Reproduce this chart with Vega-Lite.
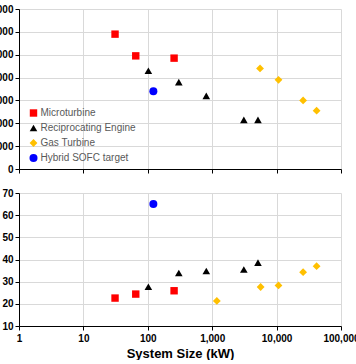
{
  "$schema": "https://vega.github.io/schema/vega-lite/v6.json",
  "padding": {"left": -13, "top": 4, "right": 0, "bottom": 0},
  "background": "white",
  "config": {
    "font": "Liberation Sans",
    "view": {"stroke": null},
    "axis": {
      "domainColor": "#000000",
      "tickColor": "#000000",
      "tickSize": 4,
      "labelFlush": false,
      "labelFont": "Liberation Sans",
      "labelFontWeight": "bold",
      "labelFontSize": 10,
      "labelColor": "#000000",
      "gridColor": "#d9d9d9",
      "titleFont": "Liberation Sans",
      "titleFontWeight": "bold",
      "titleFontSize": 13,
      "titleColor": "#000000"
    }
  },
  "datasets": {
    "top": [
      {"series": "Microturbine", "size_kw": 31, "value": 5900},
      {"series": "Microturbine", "size_kw": 65, "value": 4950},
      {"series": "Microturbine", "size_kw": 256, "value": 4850},
      {"series": "Reciprocating Engine", "size_kw": 102, "value": 4300},
      {"series": "Reciprocating Engine", "size_kw": 303, "value": 3800},
      {"series": "Reciprocating Engine", "size_kw": 810, "value": 3200},
      {"series": "Reciprocating Engine", "size_kw": 3100, "value": 2150},
      {"series": "Reciprocating Engine", "size_kw": 5140, "value": 2150},
      {"series": "Gas Turbine", "size_kw": 5530, "value": 4400},
      {"series": "Gas Turbine", "size_kw": 10700, "value": 3900},
      {"series": "Gas Turbine", "size_kw": 25800, "value": 3000},
      {"series": "Gas Turbine", "size_kw": 41800, "value": 2550},
      {"series": "Hybrid SOFC target", "size_kw": 122, "value": 3400}
    ],
    "bottom": [
      {"series": "Microturbine", "size_kw": 31, "value": 22.6},
      {"series": "Microturbine", "size_kw": 65, "value": 24.4},
      {"series": "Microturbine", "size_kw": 256, "value": 25.9},
      {"series": "Reciprocating Engine", "size_kw": 102, "value": 27.7},
      {"series": "Reciprocating Engine", "size_kw": 303, "value": 33.9},
      {"series": "Reciprocating Engine", "size_kw": 810, "value": 34.8},
      {"series": "Reciprocating Engine", "size_kw": 3100, "value": 35.5},
      {"series": "Reciprocating Engine", "size_kw": 5140, "value": 38.6},
      {"series": "Gas Turbine", "size_kw": 1180, "value": 21.3},
      {"series": "Gas Turbine", "size_kw": 5650, "value": 27.6},
      {"series": "Gas Turbine", "size_kw": 10700, "value": 28.3},
      {"series": "Gas Turbine", "size_kw": 25800, "value": 34.3},
      {"series": "Gas Turbine", "size_kw": 41800, "value": 37.0},
      {"series": "Hybrid SOFC target", "size_kw": 122, "value": 65}
    ]
  },
  "spacing": 14,
  "vconcat": [
    {
      "width": 322,
      "height": 160,
      "data": {"name": "top"},
      "mark": {"type": "point", "filled": true, "opacity": 1},
      "encoding": {
        "x": {
          "field": "size_kw", "type": "quantitative",
          "scale": {"type": "log", "domain": [1, 100000]},
          "axis": {"values": [1, 10, 100, 1000, 10000, 100000], "labels": false, "title": null, "grid": true}
        },
        "y": {
          "field": "value", "type": "quantitative",
          "scale": {"domain": [0, 7000], "nice": false},
          "axis": {"values": [0, 1000, 2000, 3000, 4000, 5000, 6000, 7000], "format": ",.0f", "title": null, "labelPadding": 2}
        },
        "color": {
          "field": "series", "type": "nominal",
          "scale": {"domain": ["Microturbine", "Reciprocating Engine", "Gas Turbine", "Hybrid SOFC target"], "range": ["#ff0000", "#000000", "#ffc000", "#0000ff"]},
          "legend": {
            "orient": "none", "legendX": 9.5, "legendY": 99, "title": null,
            "labelFont": "Liberation Sans", "labelFontSize": 10, "labelColor": "#595959",
            "symbolSize": 40, "rowPadding": 5, "labelOffset": 2, "symbolStrokeWidth": 0
          }
        },
        "shape": {
          "field": "series", "type": "nominal",
          "scale": {"domain": ["Microturbine", "Reciprocating Engine", "Gas Turbine", "Hybrid SOFC target"], "range": ["square", "triangle-up", "diamond", "circle"]}
        },
        "size": {
          "field": "series", "type": "nominal",
          "scale": {"domain": ["Microturbine", "Reciprocating Engine", "Gas Turbine", "Hybrid SOFC target"], "range": [55, 64, 70, 121]},
          "legend": null
        }
      }
    },
    {
      "width": 322,
      "height": 133,
      "data": {"name": "bottom"},
      "mark": {"type": "point", "filled": true, "opacity": 1},
      "encoding": {
        "x": {
          "field": "size_kw", "type": "quantitative",
          "scale": {"type": "log", "domain": [1, 100000]},
          "axis": {"values": [1, 10, 100, 1000, 10000, 100000], "format": ",.0f", "title": "System Size (kW)", "grid": true, "labelPadding": 3, "titlePadding": 4}
        },
        "y": {
          "field": "value", "type": "quantitative",
          "scale": {"domain": [10, 70], "nice": false, "zero": false},
          "axis": {"values": [10, 20, 30, 40, 50, 60, 70], "title": null, "labelPadding": 2}
        },
        "color": {
          "field": "series", "type": "nominal",
          "scale": {"domain": ["Microturbine", "Reciprocating Engine", "Gas Turbine", "Hybrid SOFC target"], "range": ["#ff0000", "#000000", "#ffc000", "#0000ff"]},
          "legend": null
        },
        "shape": {
          "field": "series", "type": "nominal",
          "scale": {"domain": ["Microturbine", "Reciprocating Engine", "Gas Turbine", "Hybrid SOFC target"], "range": ["square", "triangle-up", "diamond", "circle"]},
          "legend": null
        },
        "size": {
          "field": "series", "type": "nominal",
          "scale": {"domain": ["Microturbine", "Reciprocating Engine", "Gas Turbine", "Hybrid SOFC target"], "range": [55, 64, 70, 121]},
          "legend": null
        }
      }
    }
  ],
  "resolve": {"scale": {"y": "independent", "color": "independent", "shape": "independent", "size": "independent"}}
}
